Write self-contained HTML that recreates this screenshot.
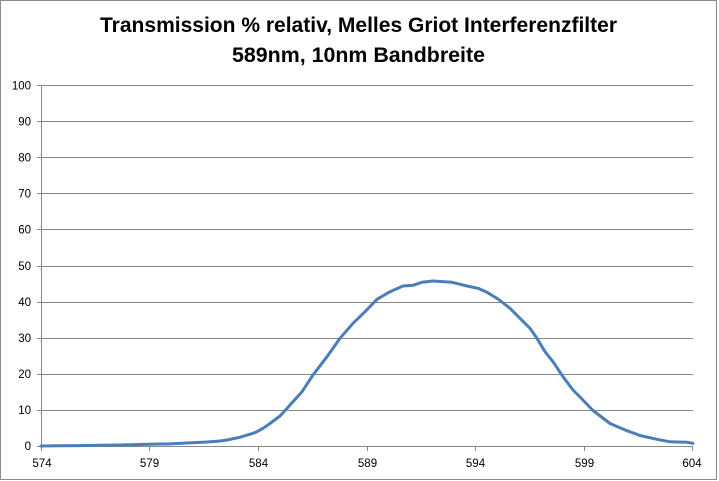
<!DOCTYPE html>
<html>
<head>
<meta charset="utf-8">
<style>
html,body{margin:0;padding:0;background:#fff;}
svg{display:block;}
</style>
</head>
<body>
<svg width="719" height="481" viewBox="0 0 719 481" xmlns="http://www.w3.org/2000/svg">
<rect x="0" y="0" width="719" height="481" fill="#fff"/>
<rect x="0.5" y="0.5" width="716" height="479" fill="none" stroke="#8a8a8a" stroke-width="1"/>
<g font-family="'Liberation Sans', sans-serif" font-weight="bold" font-size="21" fill="#000">
<text x="100" y="32" textLength="517" lengthAdjust="spacingAndGlyphs">Transmission % relativ, Melles Griot Interferenzfilter</text>
<text x="232" y="62" textLength="253" lengthAdjust="spacingAndGlyphs">589nm, 10nm Bandbreite</text>
</g>
<g stroke="#878787" stroke-width="1" shape-rendering="crispEdges">
<line x1="37" y1="85.5" x2="693" y2="85.5"/>
<line x1="37" y1="121.5" x2="693" y2="121.5"/>
<line x1="37" y1="157.5" x2="693" y2="157.5"/>
<line x1="37" y1="193.5" x2="693" y2="193.5"/>
<line x1="37" y1="229.5" x2="693" y2="229.5"/>
<line x1="37" y1="266.5" x2="693" y2="266.5"/>
<line x1="37" y1="302.5" x2="693" y2="302.5"/>
<line x1="37" y1="338.5" x2="693" y2="338.5"/>
<line x1="37" y1="374.5" x2="693" y2="374.5"/>
<line x1="37" y1="410.5" x2="693" y2="410.5"/>
<line x1="37" y1="446.5" x2="693" y2="446.5"/>
<line x1="41.5" y1="85" x2="41.5" y2="451"/>
<line x1="149.5" y1="446" x2="149.5" y2="451"/>
<line x1="258.5" y1="446" x2="258.5" y2="451"/>
<line x1="367.5" y1="446" x2="367.5" y2="451"/>
<line x1="475.5" y1="446" x2="475.5" y2="451"/>
<line x1="584.5" y1="446" x2="584.5" y2="451"/>
<line x1="692.5" y1="446" x2="692.5" y2="451"/>
</g>
<g font-family="'Liberation Sans', sans-serif" font-size="11.5" fill="#000" text-anchor="end">
<text x="31" y="89.5">100</text>
<text x="31" y="125.5">90</text>
<text x="31" y="161.5">80</text>
<text x="31" y="197.5">70</text>
<text x="31" y="233.5">60</text>
<text x="31" y="270">50</text>
<text x="31" y="306">40</text>
<text x="31" y="342">30</text>
<text x="31" y="378">20</text>
<text x="31" y="414">10</text>
<text x="31" y="450">0</text>
</g>
<g font-family="'Liberation Sans', sans-serif" font-size="11.5" fill="#000" text-anchor="middle">
<text x="42" y="467">574</text>
<text x="149.5" y="467">579</text>
<text x="258.5" y="467">584</text>
<text x="367.5" y="467">589</text>
<text x="475.5" y="467">594</text>
<text x="584.5" y="467">599</text>
<text x="692" y="467">604</text>
</g>
<polyline fill="none" stroke="#4a7ebb" stroke-width="3" stroke-linejoin="round" stroke-linecap="round"
points="41,446 60,445.8 80,445.6 100,445.3 120,445 143,444.4 150,444.3 160,444 167,444 187,443 207,442 220,441 227,440 240,437.3 243,436.3 253,433.3 257,431.7 263,428.3 270,423.5 280,416 290,405 302,391.7 313,375 327,356.7 340,338.3 353,323.3 365,311.7 377,299.3 390,291.7 403,286 413,285.3 422,282.3 433,281 452,282.3 467,286 478,288.3 487,292.3 498,299 510,308.3 520,318.3 530,328.3 537,338.3 545,351.7 553,361.7 563,376.7 573,390 580,397 593,410.5 610,423.5 627,430.7 640,435.5 657,439.3 670,441.8 687,442.3 693,443.3"/>
</svg>
</body>
</html>
